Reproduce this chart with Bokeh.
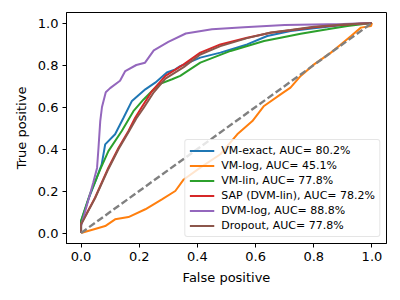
from bokeh.plotting import figure
from bokeh.models import Range1d, FixedTicker, PrintfTickFormatter
from bokeh.embed import file_html
from bokeh.resources import INLINE

# ROC data
fpr_exact = [0, 0.0, 0.025, 0.054, 0.071, 0.083, 0.117, 0.146, 0.175, 0.221, 0.255, 0.295, 0.324, 0.341, 0.41, 0.479, 0.571, 0.64, 0.72, 0.8, 0.9, 1.0]
tpr_exact = [0, 0.057, 0.16, 0.263, 0.327, 0.422, 0.47, 0.549, 0.629, 0.684, 0.716, 0.764, 0.779, 0.795, 0.835, 0.859, 0.898, 0.938, 0.962, 0.975, 0.99, 1.0]

fpr_log = [0, 0.048, 0.083, 0.117, 0.163, 0.221, 0.278, 0.324, 0.353, 0.41, 0.479, 0.537, 0.589, 0.629, 0.686, 0.72, 0.755, 0.801, 0.859, 0.893, 0.928, 0.962, 0.997, 1.0]
tpr_log = [0, 0.019, 0.033, 0.065, 0.076, 0.113, 0.16, 0.2, 0.255, 0.311, 0.375, 0.47, 0.533, 0.605, 0.66, 0.692, 0.748, 0.803, 0.859, 0.898, 0.938, 0.978, 0.986, 1.0]

fpr_lin = [0, 0.0, 0.031, 0.066, 0.094, 0.14, 0.18, 0.215, 0.267, 0.313, 0.341, 0.359, 0.41, 0.514, 0.629, 0.686, 0.755, 0.847, 0.916, 1.0]
tpr_lin = [0, 0.057, 0.186, 0.303, 0.39, 0.486, 0.58, 0.636, 0.708, 0.732, 0.748, 0.765, 0.811, 0.867, 0.914, 0.93, 0.949, 0.97, 0.986, 1.0]

fpr_sap = [0, 0.0, 0.048, 0.094, 0.129, 0.163, 0.186, 0.209, 0.244, 0.29, 0.353, 0.41, 0.479, 0.571, 0.652, 0.72, 0.8, 0.9, 1.0]
tpr_sap = [0, 0.043, 0.168, 0.311, 0.406, 0.486, 0.549, 0.6, 0.676, 0.748, 0.803, 0.859, 0.898, 0.93, 0.954, 0.965, 0.98, 0.992, 1.0]

fpr_dvm = [0, 0.0, 0.031, 0.042, 0.055, 0.06, 0.066, 0.072, 0.085, 0.1, 0.134, 0.152, 0.19, 0.22, 0.25, 0.3, 0.36, 0.45, 0.56, 0.7, 0.9, 1.0]
tpr_dvm = [0, 0.033, 0.186, 0.24, 0.31, 0.406, 0.533, 0.6, 0.67, 0.69, 0.725, 0.771, 0.80, 0.811, 0.87, 0.91, 0.95, 0.97, 0.98, 0.99, 0.995, 1.0]

fpr_drop = [0, 0.0, 0.048, 0.094, 0.129, 0.163, 0.19, 0.215, 0.25, 0.29, 0.353, 0.41, 0.479, 0.571, 0.652, 0.72, 0.8, 0.9, 1.0]
tpr_drop = [0, 0.04, 0.165, 0.305, 0.40, 0.48, 0.545, 0.595, 0.67, 0.735, 0.79, 0.85, 0.89, 0.928, 0.955, 0.967, 0.982, 0.993, 1.0]

diag_x = [0, 1]
diag_y = [0, 1]

labels = ["VM-exact, AUC= 80.2%", "VM-log, AUC= 45.1%", "VM-lin, AUC= 77.8%",
          "SAP (DVM-lin), AUC= 78.2%", "DVM-log, AUC= 88.8%", "Dropout, AUC= 77.8%"]
colors = ["#1f77b4", "#ff7f0e", "#2ca02c", "#d62728", "#9467bd", "#8c564b"]
ticks = [0.0, 0.2, 0.4, 0.6, 0.8, 1.0]

FONT = "DejaVu Sans"

p = figure(frame_width=320, frame_height=231, output_backend="svg", toolbar_location=None,
           x_range=Range1d(-0.05, 1.05), y_range=Range1d(-0.05, 1.05),
           min_border_left=66, min_border_right=6, min_border_top=12, min_border_bottom=49)
p.xgrid.visible = False
p.ygrid.visible = False
p.outline_line_color = "black"
p.outline_line_width = 1

series = [(fpr_exact, tpr_exact), (fpr_log, tpr_log), (fpr_lin, tpr_lin),
          (fpr_sap, tpr_sap), (fpr_dvm, tpr_dvm), (fpr_drop, tpr_drop)]
for (xs, ys), lab, col in zip(series, labels, colors):
    p.line(xs, ys, line_color=col, line_width=2, legend_label=lab)

p.line(diag_x, diag_y, line_color="#808080", line_width=2.4, line_dash="7 3")

for ax in (p.xaxis, p.yaxis):
    ax.ticker = FixedTicker(ticks=ticks)
    ax.formatter = PrintfTickFormatter(format="%.1f")
    ax.major_tick_out = 4
    ax.major_tick_in = 0
    ax.minor_tick_out = 0
    ax.minor_tick_in = 0
    ax.axis_line_color = "black"
    ax.major_tick_line_color = "black"
    ax.major_label_text_font = FONT
    ax.major_label_text_font_size = "13px"
    ax.major_label_text_color = "black"
    ax.axis_label_text_font = FONT
    ax.axis_label_text_font_size = "13px"
    ax.axis_label_text_font_style = "normal"
    ax.axis_label_text_color = "black"
    ax.major_label_standoff = 4
    ax.axis_label_standoff = 6

p.xaxis.axis_label = "False positive"
p.yaxis.axis_label = "True positive"

lg = p.legend[0]
lg.location = "bottom_right"
lg.margin = 6
lg.padding = 4
lg.spacing = 2
lg.glyph_width = 25
lg.glyph_height = 13
lg.label_height = 13
lg.label_standoff = 7
lg.label_text_font = FONT
lg.label_text_font_size = "11px"
lg.label_text_color = "black"
lg.border_line_color = "#cccccc"
lg.border_line_width = 1
lg.background_fill_color = "white"
lg.background_fill_alpha = 0.8
if "border_radius" in lg.properties():
    lg.border_radius = 3

open("out.html", "w").write(file_html(p, INLINE))
